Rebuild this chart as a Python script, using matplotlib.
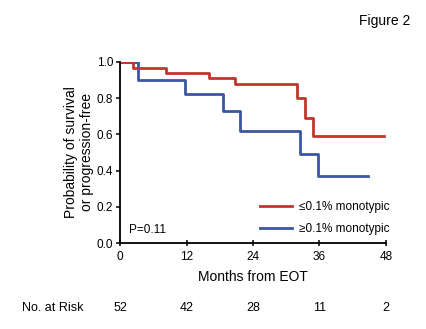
import matplotlib
matplotlib.use("Agg")
import matplotlib.pyplot as plt

plt.rcParams["font.family"] = ["Liberation Sans", "DejaVu Sans"]

# Kaplan-Meier step data
low_months = [0, 2.3, 8.2, 16.1, 20.7, 31.9, 33.4, 34.8, 47.6]
low_surv = [1.0, 0.965, 0.94, 0.91, 0.88, 0.80, 0.69, 0.59, 0.59]
high_months = [0, 3.2, 11.7, 18.5, 21.6, 32.4, 35.8, 44.7]
high_surv = [1.0, 0.90, 0.82, 0.73, 0.62, 0.49, 0.37, 0.37]

risk_months = [0, 12, 24, 36, 48]
risk_counts = [52, 42, 28, 11, 2]

RED = "#c4342c"
BLUE = "#3b55a0"

fig = plt.figure(figsize=(4.26, 3.29), dpi=100)
ax = fig.add_axes([0.282, 0.261, 0.624, 0.551])

ax.step(high_months, high_surv, where="post", color=BLUE, lw=2.0,
        label="\u22650.1% monotypic")
ax.step(low_months, low_surv, where="post", color=RED, lw=2.0,
        label="\u22640.1% monotypic")

ax.set_xlim(0, 48)
ax.set_ylim(0, 1.0)
ax.set_xticks(risk_months)
ax.set_yticks([0, 0.2, 0.4, 0.6, 0.8, 1.0])
ax.set_yticklabels(["0.0", "0.2", "0.4", "0.6", "0.8", "1.0"])
for s in ["top", "right"]:
    ax.spines[s].set_visible(False)
for s in ["left", "bottom"]:
    ax.spines[s].set_linewidth(1.3)
ax.tick_params(axis="x", direction="inout", length=5, width=1.1, labelsize=8.5, pad=3)
ax.tick_params(axis="y", direction="out", length=3, width=1.1, labelsize=8.5, pad=2)
ax.set_xlabel("Months from EOT", fontsize=10, labelpad=5)
ax.set_ylabel("Probability of survival\nor progression-free", fontsize=10,
              linespacing=1.15, labelpad=2)

handles, labels = ax.get_legend_handles_labels()
ax.legend(handles[::-1], labels[::-1], loc="lower right", frameon=False,
          fontsize=8.5, handlelength=2.7, handletextpad=0.6, labelspacing=0.8,
          borderaxespad=0.0, bbox_to_anchor=(1.03, 0.02))

ax.text(0.035, 0.075, "P=0.11", transform=ax.transAxes, fontsize=8.5,
        ha="left", va="center")

# number at risk row
fig.text(0.052, 0.063, "No. at Risk", fontsize=9, ha="left", va="center")
for m, n in zip(risk_months, risk_counts):
    ax.text(m, -0.36, str(n), transform=ax.get_xaxis_transform(),
            fontsize=9, ha="center", va="center", clip_on=False)

fig.text(0.963, 0.935, "Figure 2", fontsize=10, ha="right", va="center")

fig.savefig("out.png", dpi=100)
